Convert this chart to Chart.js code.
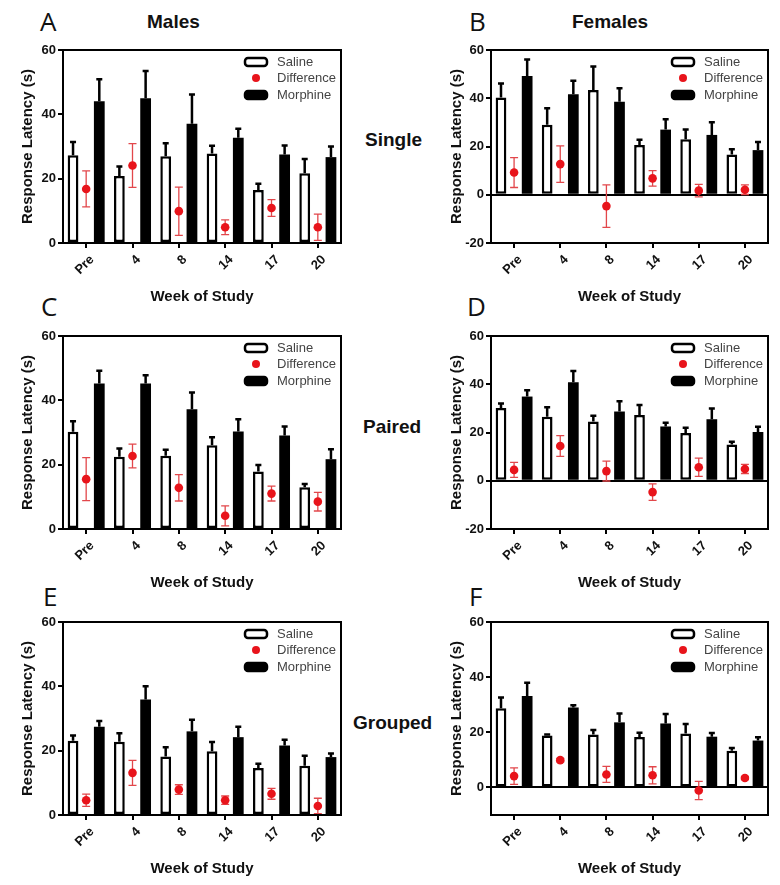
<!DOCTYPE html>
<html>
<head>
<meta charset="utf-8">
<script src="https://cdn.jsdelivr.net/npm/chart.js@4.4.1/dist/chart.umd.min.js"></script>
<style>
  html, body { margin: 0; padding: 0; background: #fff; }
  #page { position: relative; width: 780px; height: 885px; overflow: hidden; font-family: "Liberation Sans", Arial, sans-serif; }
  .panel { position: absolute; width: 390px; height: 270px; }
  .letter { position: absolute; font-family: "Open Sans", sans-serif; font-size: 26px; line-height: 26px; color: #111; }
  .head { position: absolute; font-weight: bold; font-size: 19px; line-height: 20px; color: #111; white-space: nowrap; }
</style>
</head>
<body>
<div id="page">
  <div class="letter" style="left:40px;top:8px">A</div>
  <div class="letter" style="left:469px;top:8px">B</div>
  <div class="letter" style="left:41px;top:293px">C</div>
  <div class="letter" style="left:467px;top:293px">D</div>
  <div class="letter" style="left:43px;top:583px">E</div>
  <div class="letter" style="left:469px;top:583px">F</div>
  <div class="head" style="left:147px;top:12px">Males</div>
  <div class="head" style="left:572px;top:12px">Females</div>
  <div class="head" style="left:365px;top:130px">Single</div>
  <div class="head" style="left:363px;top:417px">Paired</div>
  <div class="head" style="left:353px;top:713px">Grouped</div>

  <div class="panel" style="left:0;top:36px"><canvas id="chartA"></canvas></div>
  <div class="panel" style="left:390px;top:36px"><canvas id="chartB"></canvas></div>
  <div class="panel" style="left:0;top:322px"><canvas id="chartC"></canvas></div>
  <div class="panel" style="left:390px;top:322px"><canvas id="chartD"></canvas></div>
  <div class="panel" style="left:0;top:608px"><canvas id="chartE"></canvas></div>
  <div class="panel" style="left:390px;top:608px"><canvas id="chartF"></canvas></div>
</div>
<script>
// categories and series names
var weeks = ['Pre', '4', '8', '14', '17', '20'];
var seriesNames = ['Saline', 'Difference', 'Morphine'];

// A - males, single housed
var salineA = [27.3, 20.8, 27, 27.8, 16.5, 21.7];
var salineErrA = [4.1, 3, 4, 2.4, 1.9, 4.4];
var diffA = [16.8, 24.1, 9.9, 4.9, 10.9, 4.9];
var diffErrA = [5.6, 6.8, 7.5, 2.3, 2.6, 4.1];
var morphA = [44.1, 45, 37.1, 32.7, 27.5, 26.7];
var morphErrA = [6.8, 8.5, 9.1, 2.8, 2.8, 3.3];

// B - females, single housed
var salineB = [40.3, 29, 43.4, 20.6, 23, 16.7];
var salineErrB = [5.8, 6.9, 9.8, 2.2, 4, 2.2];
var diffB = [9.2, 12.7, -4.7, 6.8, 1.7, 2.1];
var diffErrB = [6.2, 7.6, 8.8, 3.2, 2.6, 2];
var morphB = [49.2, 41.7, 38.6, 27, 24.8, 18.5];
var morphErrB = [6.9, 5.6, 5.5, 4.3, 5.3, 3.4];

// C - males, paired
var salineC = [30.2, 22.5, 22.8, 26, 17.9, 13];
var salineErrC = [3.3, 2.5, 1.8, 2.5, 2, 1];
var diffC = [15.5, 22.7, 12.8, 4.1, 11, 8.5];
var diffErrC = [6.7, 3.7, 4.1, 3.1, 2.3, 2.9];
var morphC = [45.2, 45.2, 37.2, 30.3, 29.1, 21.7];
var morphErrC = [4, 2.6, 5.2, 3.8, 2.8, 3.1];

// D - females, paired
var salineD = [30.2, 26.5, 24.6, 27.3, 19.8, 15];
var salineErrD = [1.8, 4, 2.3, 4.1, 2.2, 1.2];
var diffD = [4.5, 14.4, 4, -4.7, 5.6, 4.9];
var diffErrD = [3.1, 4.3, 4.1, 3.4, 3.8, 1.9];
var morphD = [34.9, 40.8, 28.7, 22.5, 25.5, 20.2];
var morphErrD = [2.6, 4.7, 4.3, 1.5, 4.4, 2.2];

// E - males, grouped
var salineE = [23.1, 22.8, 18.2, 19.8, 14.6, 15.3];
var salineErrE = [1.6, 2.6, 2.9, 2.9, 1.3, 3.1];
var diffE = [4.6, 13.1, 7.9, 4.6, 6.6, 2.8];
var diffErrE = [1.9, 3.9, 1.5, 1.3, 1.7, 2.4];
var morphE = [27.4, 35.9, 26, 24.2, 21.6, 18];
var morphErrE = [1.8, 4.1, 3.6, 3.2, 1.8, 1.1];

// F - females, grouped
var salineF = [28.7, 18.8, 19.2, 18.3, 19.6, 13.3];
var salineErrF = [3.9, 0.4, 1.6, 1.5, 3.4, 1];
var diffF = [4.1, 9.9, 4.7, 4.4, -1.1, 3.4];
var diffErrF = [3, 0.6, 2.9, 3.1, 3.3, 0.6];
var morphF = [33.2, 29, 23.6, 23.2, 18.4, 17];
var morphErrF = [4.8, 0.8, 3.2, 3.4, 1.3, 1.2];

var RED = '#e8141b';
var FONT = '"Liberation Sans", Arial, sans-serif';
Chart.defaults.font.family = FONT;
Chart.defaults.animation = false;

// whiskers: black ones only go up from the bar, red ones both ways
var errorBars = {
    id: 'errorBars',
    beforeDatasetsDraw: function (chart) {
        var ctx = chart.ctx;
        var yScale = chart.scales.y;
        chart.data.datasets.forEach(function (ds, di) {
            if (!ds.errors) return;
            var meta = chart.getDatasetMeta(di);
            meta.data.forEach(function (el, i) {
                var v = ds.data[i];
                if (v == null) return;
                var e = ds.errors[i];
                var top = yScale.getPixelForValue(v + e);
                var bot = yScale.getPixelForValue(ds.bothWays ? v - e : v);
                var cap = ds.bothWays ? 4 : 3;
                ctx.save();
                ctx.strokeStyle = ds.bothWays ? '#e2474b' : '#000';
                ctx.lineWidth = ds.bothWays ? 1.3 : 2.5;
                ctx.beginPath();
                ctx.moveTo(el.x, bot);
                ctx.lineTo(el.x, top);
                ctx.moveTo(el.x - cap, top);
                ctx.lineTo(el.x + cap, top);
                if (ds.bothWays) {
                    ctx.moveTo(el.x - cap, bot);
                    ctx.lineTo(el.x + cap, bot);
                }
                ctx.stroke();
                ctx.restore();
            });
        });
    }
};

function roundBox(ctx, x, y, w, h, r) {
    ctx.beginPath();
    ctx.moveTo(x + r, y);
    ctx.arcTo(x + w, y, x + w, y + h, r);
    ctx.arcTo(x + w, y + h, x, y + h, r);
    ctx.arcTo(x, y + h, x, y, r);
    ctx.arcTo(x, y, x + w, y, r);
    ctx.closePath();
}

// frame round the plot and the legend inside it
var frameLegend = {
    id: 'frameLegend',
    afterDraw: function (chart) {
        var ctx = chart.ctx;
        var a = chart.chartArea;
        ctx.save();
        ctx.strokeStyle = '#000';
        ctx.lineWidth = 2;
        ctx.strokeRect(a.left, a.top, a.right - a.left, a.bottom - a.top);

        var ix = a.right - 96, tx = a.right - 64;
        var rows = [a.top + 12, a.top + 28, a.top + 45];
        ctx.lineWidth = 2.5;
        roundBox(ctx, ix, rows[0] - 4, 22, 8, 3);
        ctx.fillStyle = '#fff';
        ctx.fill();
        ctx.stroke();
        ctx.beginPath();
        ctx.arc(ix + 11, rows[1], 4, 0, Math.PI * 2);
        ctx.fillStyle = RED;
        ctx.fill();
        roundBox(ctx, ix, rows[2] - 4, 22, 8, 3);
        ctx.fillStyle = '#000';
        ctx.fill();
        ctx.stroke();

        ctx.fillStyle = '#444';
        ctx.font = '13px ' + FONT;
        ctx.textBaseline = 'middle';
        ctx.textAlign = 'left';
        for (var k = 0; k < 3; k++) {
            ctx.fillText(seriesNames[k], tx, rows[k]);
        }
        ctx.restore();
    }
};

function makePanel(id, sal, salErr, dif, difErr, mor, morErr, yMin, rightCol) {
    var ctx = document.getElementById(id).getContext('2d');
    var boldFont = { size: 13, weight: 'bold', family: FONT };
    var titleFont = { size: 15, weight: 'bold', family: FONT };
    return new Chart(ctx, {
        type: 'bar',
        data: {
            labels: weeks,
            datasets: [
                {
                    type: 'line',
                    label: seriesNames[1],
                    data: dif,
                    errors: difErr,
                    bothWays: true,
                    showLine: false,
                    pointRadius: 4.3,
                    pointBorderWidth: 0,
                    pointBackgroundColor: RED,
                    order: 0
                },
                {
                    label: seriesNames[0],
                    data: sal,
                    errors: salErr,
                    backgroundColor: '#fff',
                    borderColor: '#000',
                    borderWidth: 2.5,
                    borderSkipped: false,
                    order: 1
                },
                {
                    // empty slot so the points sit between the two bars
                    label: '',
                    data: weeks.map(function () { return null; }),
                    order: 1
                },
                {
                    label: seriesNames[2],
                    data: mor,
                    errors: morErr,
                    backgroundColor: '#000',
                    borderColor: '#000',
                    borderWidth: 0,
                    order: 1
                }
            ]
        },
        options: {
            responsive: false,
            maintainAspectRatio: false,
            layout: { padding: { top: 14, bottom: 0, left: rightCol ? 45 : 0, right: rightCol ? 12 : 49 } },
            categoryPercentage: 0.85,
            barPercentage: 0.82,
            plugins: {
                legend: { display: false },
                tooltip: { enabled: false }
            },
            scales: {
                x: {
                    offset: true,
                    ticks: { minRotation: 45, maxRotation: 45, autoSkip: false, font: boldFont, color: '#111', padding: 4, labelOffset: 6 },
                    grid: { offset: false, drawOnChartArea: false, tickLength: 5, color: '#000', lineWidth: 2 },
                    border: { color: '#000', width: 2 },
                    title: { display: true, text: 'Week of Study', font: titleFont, color: '#111', padding: { top: 0, bottom: 0 } },
                    afterFit: function (s) { s.height = 63; }
                },
                y: {
                    min: yMin,
                    max: 60,
                    ticks: { stepSize: 20, font: boldFont, color: '#111', padding: 2 },
                    afterBuildTicks: function (s) {
                        s.ticks = s.ticks.filter(function (t) { return t.value % 20 === 0; });
                    },
                    grid: {
                        drawOnChartArea: true,
                        color: function (c) { return (c.tick && c.tick.value === 0 && yMin < 0) ? '#000' : 'rgba(0,0,0,0)'; },
                        tickColor: '#000',
                        tickLength: 5,
                        lineWidth: 2
                    },
                    border: { color: '#000', width: 2 },
                    title: { display: true, text: 'Response Latency (s)', font: titleFont, color: '#111', padding: { top: rightCol ? 13 : 19, bottom: 0 } },
                    afterFit: function (s) { s.width = rightCol ? 56 : 63; }
                }
            }
        },
        plugins: [errorBars, frameLegend]
    });
}

function sizeCanvases() {
    ['chartA', 'chartB', 'chartC', 'chartD', 'chartE', 'chartF'].forEach(function (id) {
        var c = document.getElementById(id);
        c.width = 390;
        c.height = 270;
        c.style.width = '390px';
        c.style.height = '270px';
    });
}

sizeCanvases();
makePanel('chartA', salineA, salineErrA, diffA, diffErrA, morphA, morphErrA, 0, false);
makePanel('chartB', salineB, salineErrB, diffB, diffErrB, morphB, morphErrB, -20, true);
makePanel('chartC', salineC, salineErrC, diffC, diffErrC, morphC, morphErrC, 0, false);
makePanel('chartD', salineD, salineErrD, diffD, diffErrD, morphD, morphErrD, -20, true);
makePanel('chartE', salineE, salineErrE, diffE, diffErrE, morphE, morphErrE, 0, false);
makePanel('chartF', salineF, salineErrF, diffF, diffErrF, morphF, morphErrF, -10, true);
</script>
</body>
</html>
